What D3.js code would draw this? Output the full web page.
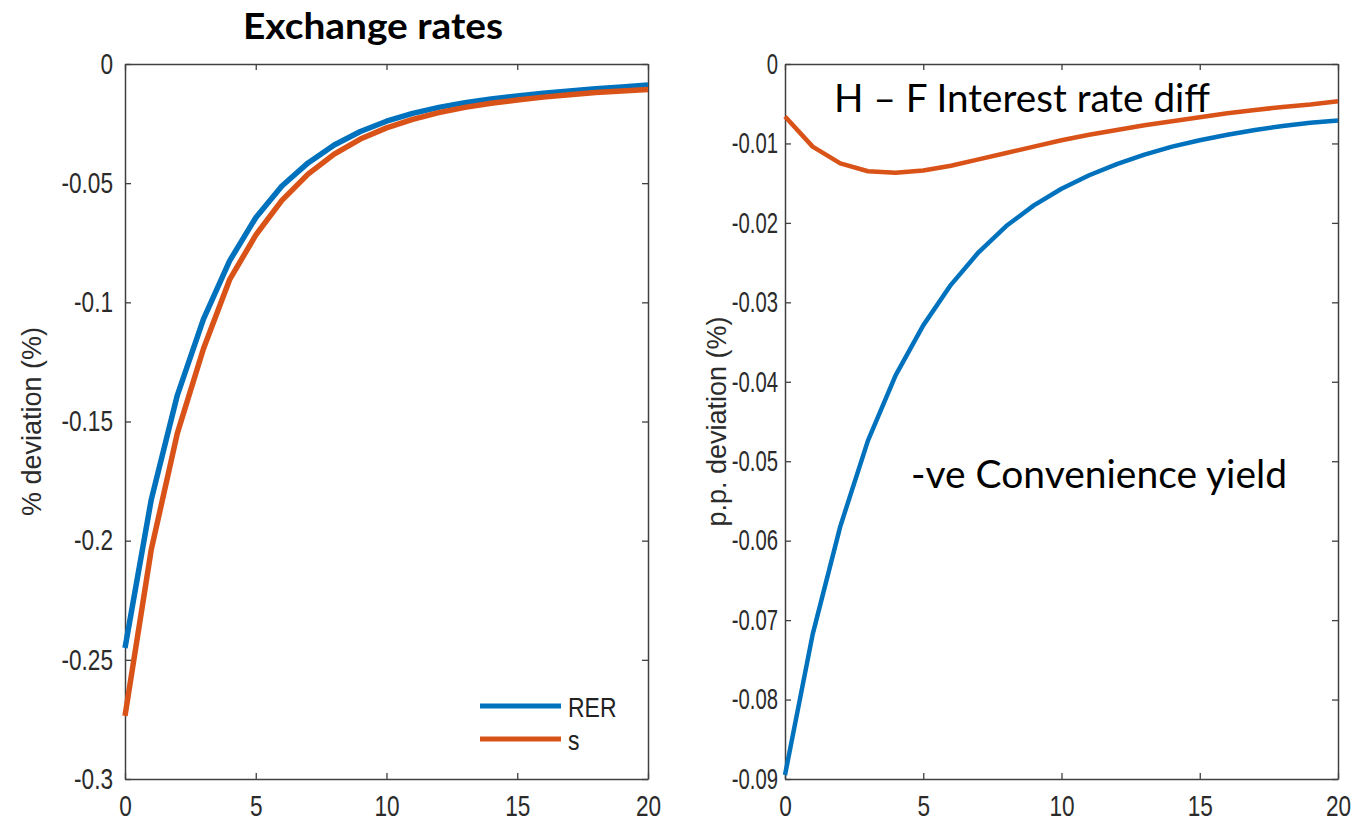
<!DOCTYPE html>
<html>
<head>
<meta charset="utf-8">
<script src="https://cdn.jsdelivr.net/npm/d3@7"></script>
<style>
  html, body { margin: 0; padding: 0; background: #fff; }
  svg { display: block; }
</style>
</head>
<body>
<div id="chart"></div>
<script>
// periods after the shock
const periods = [0, 1, 2, 3, 4, 5, 6, 7, 8, 9, 10, 11, 12, 13, 14, 15, 16, 17, 18, 19, 20];

// left panel: exchange rates
const rer = [-0.245, -0.183, -0.139, -0.107, -0.0826, -0.0645, -0.0512, -0.0415, -0.0340, -0.0283, -0.0240,
             -0.0207, -0.0182, -0.0162, -0.0147, -0.0134, -0.0123, -0.0113, -0.0104, -0.0096, -0.0088];
const sRate = [-0.2735, -0.204, -0.155, -0.1195, -0.0905, -0.0718, -0.0572, -0.0462, -0.0378, -0.0315, -0.0268,
               -0.0232, -0.0204, -0.0182, -0.0165, -0.0151, -0.0139, -0.0129, -0.0120, -0.0113, -0.0107];

// right panel: convenience yield and interest rate differential
const convYield = [-0.0895, -0.0718, -0.0582, -0.0474, -0.0392, -0.0329, -0.0278, -0.0237, -0.0204, -0.0178, -0.0157,
                   -0.0140, -0.0126, -0.0114, -0.0104, -0.0096, -0.0089, -0.0083, -0.0078, -0.0074, -0.0071];
const rateDiff = [-0.0066, -0.0104, -0.0125, -0.0135, -0.0137, -0.0134, -0.0128, -0.0120, -0.0112, -0.0104, -0.0096,
                  -0.0089, -0.0083, -0.0077, -0.0072, -0.0067, -0.0062, -0.0058, -0.0054, -0.0051, -0.0047];

const xTicks = [0, 5, 10, 15, 20];
const leftTicks = [0, -0.05, -0.1, -0.15, -0.2, -0.25, -0.3];
const leftTickLabels = ["0", "-0.05", "-0.1", "-0.15", "-0.2", "-0.25", "-0.3"];
const rightTicks = [0, -0.01, -0.02, -0.03, -0.04, -0.05, -0.06, -0.07, -0.08, -0.09];
const rightTickLabels = ["0", "-0.01", "-0.02", "-0.03", "-0.04", "-0.05", "-0.06", "-0.07", "-0.08", "-0.09"];

const legendNames = ["RER", "s"];

const BLUE = "#0072BD";
const ORANGE = "#D95319";
const AXIS = "#404040";
const SX = 0.78; // horizontal squeeze of the matlab labels

const width = 1356, height = 822;

const svg = d3.select("#chart").append("svg")
    .attr("width", width)
    .attr("height", height);

function drawPanel(opts) {
    const x = d3.scaleLinear().domain([0, 20]).range([opts.x0, opts.x1]);
    const y = d3.scaleLinear().domain(opts.yDomain).range([opts.y1, opts.y0]);
    const g = svg.append("g");

    const line = d3.line()
        .x((d, i) => x(periods[i]))
        .y(d => y(d));

    // axes with inward ticks on all four sides
    const left = g.append("g")
        .attr("transform", `translate(${opts.x0},0)`)
        .call(d3.axisLeft(y).tickValues(opts.ticks)
            .tickFormat((d, i) => opts.tickLabels[i])
            .tickSize(-6).tickSizeOuter(0).tickPadding(opts.pad));
    const right = g.append("g")
        .attr("transform", `translate(${opts.x1},0)`)
        .call(d3.axisRight(y).tickValues(opts.ticks).tickFormat("")
            .tickSize(-6).tickSizeOuter(0));
    const bottom = g.append("g")
        .attr("transform", `translate(0,${opts.y1})`)
        .call(d3.axisBottom(x).tickValues(xTicks).tickFormat(d3.format("d"))
            .tickSize(-6).tickSizeOuter(0).tickPadding(16));
    const top = g.append("g")
        .attr("transform", `translate(0,${opts.y0})`)
        .call(d3.axisTop(x).tickValues(xTicks).tickFormat("")
            .tickSize(-6).tickSizeOuter(0));

    [left, right, bottom, top].forEach(a => {
        a.select(".domain").attr("stroke", AXIS).attr("stroke-width", 1.5);
        a.selectAll(".tick line").attr("stroke", AXIS).attr("stroke-width", 1.3);
        a.selectAll(".tick text")
            .attr("fill", "#2b2b2b")
            .style("font-family", "'Liberation Sans', Arial, sans-serif")
            .style("font-size", "29px");
    });
    left.selectAll(".tick text")
        .attr("x", -opts.pad / opts.sx)
        .attr("transform", `scale(${opts.sx},1)`);
    bottom.selectAll(".tick text")
        .attr("transform", `scale(${SX},1)`);

    // y axis title
    g.append("text")
        .attr("transform", `translate(${opts.labelX},${(opts.y0 + opts.y1) / 2}) rotate(-90)`)
        .attr("text-anchor", "middle")
        .attr("fill", "#2b2b2b")
        .style("font-family", "'Liberation Sans', Arial, sans-serif")
        .style("font-size", "27px")
        .text(opts.yLabel);

    opts.series.forEach(s => {
        g.append("path")
            .datum(s.values)
            .attr("fill", "none")
            .attr("stroke", s.color)
            .attr("stroke-width", opts.lineWidth)
            .attr("stroke-linejoin", "round")
            .attr("d", line);
    });

    return { g, x, y };
}

const leftPanel = drawPanel({
    x0: 125, x1: 648, y0: 64, y1: 779,
    yDomain: [-0.3, 0], ticks: leftTicks, tickLabels: leftTickLabels,
    pad: 12, sx: SX,
    yLabel: "% deviation (%)", labelX: 41, lineWidth: 5.5,
    series: [{ values: rer, color: BLUE }, { values: sRate, color: ORANGE }]
});

const rightPanel = drawPanel({
    x0: 785, x1: 1338, y0: 64, y1: 779,
    yDomain: [-0.09, 0], ticks: rightTicks, tickLabels: rightTickLabels,
    pad: 7, sx: 0.7,
    yLabel: "p.p. deviation (%)", labelX: 726, lineWidth: 4.5,
    series: [{ values: convYield, color: BLUE }, { values: rateDiff, color: ORANGE }]
});

// legend (left panel, bottom right)
const legend = svg.append("g");
[BLUE, ORANGE].forEach((c, i) => {
    const ly = 706 + i * 33;
    legend.append("line")
        .attr("x1", 480).attr("x2", 561)
        .attr("y1", ly).attr("y2", ly)
        .attr("stroke", c).attr("stroke-width", 5);
    legend.append("text")
        .attr("transform", `translate(568,${ly + 11}) scale(0.82,1)`)
        .attr("fill", "#222")
        .style("font-family", "'Liberation Sans', Arial, sans-serif")
        .style("font-size", "28px")
        .text(legendNames[i]);
});

// title and annotations (Calibri-like)
svg.append("text")
    .attr("x", 243).attr("y", 39)
    .attr("textLength", 260).attr("lengthAdjust", "spacingAndGlyphs")
    .style("font-family", "Lato, 'Open Sans', sans-serif")
    .style("font-weight", "bold")
    .style("font-size", "37px")
    .attr("fill", "#000")
    .text("Exchange rates");

svg.append("text")
    .attr("x", 834).attr("y", 112)
    .attr("textLength", 376).attr("lengthAdjust", "spacingAndGlyphs")
    .style("font-family", "Lato, 'Open Sans', sans-serif")
    .style("font-size", "38px")
    .attr("fill", "#000")
    .text("H – F Interest rate diff");

svg.append("text")
    .attr("x", 911).attr("y", 488)
    .attr("textLength", 376).attr("lengthAdjust", "spacingAndGlyphs")
    .style("font-family", "Lato, 'Open Sans', sans-serif")
    .style("font-size", "38px")
    .attr("fill", "#000")
    .text("-ve Convenience yield");
</script>
</body>
</html>
